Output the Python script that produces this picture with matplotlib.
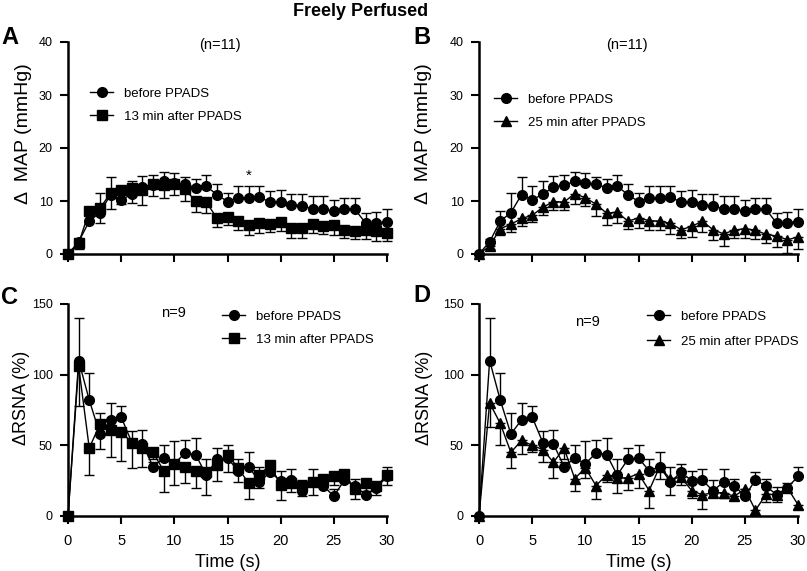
import numpy as np
import matplotlib
matplotlib.use('Agg')
import matplotlib.pyplot as plt

plt.rcParams['font.family'] = ['Liberation Sans', 'DejaVu Sans']

time_s = np.arange(0, 31)
xticks = [0, 5, 10, 15, 20, 25, 30]

# MAP, before PPADS (shared by A and B), upper SEM
map_before = [0, 2.3, 6.2, 7.8, 11.2, 10.2, 11.3, 12.6, 13.0, 13.7, 13.4, 13.2, 12.5, 12.8, 11.2,
              9.9, 10.6, 10.5, 10.7, 9.8, 9.8, 9.3, 9.1, 8.5, 8.4, 8.1, 8.4, 8.4, 5.8, 5.9, 6.1]
map_before_err = [0, 0.5, 1.9, 3.8, 3.3, 2.7, 2.5, 2.2, 1.9, 1.8, 1.8, 1.4, 1.7, 2.2, 2.0,
                  1.6, 2.2, 2.3, 2.1, 2.0, 2.2, 2.1, 2.2, 2.4, 2.5, 2.1, 2.1, 2.1, 2.0, 2.0, 2.3]
# MAP, 13 min after PPADS, lower SEM
map_13 = [0, 2.0, 8.1, 8.6, 11.5, 12.0, 12.5, 12.0, 13.3, 13.0, 13.2, 12.2, 10.0, 9.8, 6.8,
          7.0, 6.3, 5.4, 5.9, 5.7, 6.0, 4.9, 4.9, 5.6, 5.3, 5.4, 4.5, 4.4, 4.5, 4.4, 4.0]
map_13_err = [0, 1.0, 1.0, 2.7, 3.1, 2.5, 2.8, 2.8, 2.3, 2.4, 2.0, 2.2, 2.0, 2.0, 1.7,
              1.5, 1.8, 1.8, 1.9, 1.5, 1.6, 1.8, 1.9, 1.6, 1.5, 1.9, 1.5, 1.6, 1.6, 1.9, 1.5]
# MAP, 25 min after PPADS, lower SEM
map_25 = [0, 1.5, 4.8, 5.6, 6.7, 7.3, 8.8, 9.9, 9.8, 11.4, 10.6, 9.4, 7.7, 7.9, 6.2,
          6.8, 6.3, 6.2, 5.8, 4.6, 5.2, 6.2, 4.6, 3.8, 4.5, 4.8, 4.5, 3.7, 3.4, 2.7, 3.2]
map_25_err = [0, 0.5, 1.3, 1.4, 1.5, 1.3, 1.5, 1.6, 1.5, 1.9, 1.6, 2.2, 2.2, 2.1, 1.4,
              1.9, 1.7, 1.7, 2.0, 1.6, 1.9, 2.0, 2.0, 2.2, 1.5, 1.8, 1.7, 1.7, 2.1, 2.5, 2.2]

# RSNA, before PPADS (shared by C and D), upper SEM
rsna_before = [0, 110, 82, 58, 68, 70, 52, 51, 35, 41, 37, 44.5, 43.5, 29, 40,
               41, 32, 35, 24, 31, 25, 25.5, 17.8, 24, 21.5, 14, 25.5, 21, 15, 20, 28]
rsna_before_err = [0, 30, 19, 15, 12, 8, 8, 10, 3, 9.5, 16, 9.5, 12, 11, 8,
                   9, 8, 10, 11, 5.5, 6.5, 7.5, 7.7, 9.5, 4.5, 5, 5.5, 5, 5.5, 3, 7]
# RSNA, 13 min after PPADS, lower SEM
rsna_13 = [0, 106, 48, 65, 61, 59.5, 52, 48, 45, 32, 36.5, 35, 32, 31, 36,
           43.5, 34, 23, 29, 36, 22, 23, 21, 24, 26, 28, 30, 19, 23, 21, 29]
rsna_13_err = [0, 28, 19, 17.5, 19, 20.5, 18, 13, 5, 15, 14.5, 12, 12, 16, 11,
               12.5, 10, 11, 9, 6, 11, 6, 7, 9, 4, 6, 6, 7, 5, 6, 7]
# RSNA, 25 min after PPADS, lower SEM
rsna_25 = [0, 80, 65.5, 45, 53.5, 50, 47, 38, 48, 26.5, 34, 21.5, 29, 27, 27,
           30, 18, 35, 26, 27.5, 18, 15, 16.5, 16.5, 14, 19, 4, 15.5, 15, 20, 8]
rsna_25_err = [0, 17, 15.5, 11, 9.5, 5, 9, 11, 8, 8.5, 7, 9.5, 5, 11, 8.5,
               10, 12, 9, 11, 5.5, 5, 10, 3, 3.5, 3, 4, 3, 5.5, 5, 3, 3]

fig = plt.figure(figsize=(8.07, 5.71), dpi=100)
W, H = 807.0, 571.0


def make_ax(x0, x1, ytop, ybot):
    return fig.add_axes([x0 / W, 1 - ybot / H, (x1 - x0) / W, (ybot - ytop) / H])


def series(ax, y, err, marker, ms, upper, label):
    e = np.array(err)
    z = np.zeros_like(e)
    yerr = [z, e] if upper else [e, z]
    ax.errorbar(time_s, y, yerr=yerr, fmt='none', ecolor='black', elinewidth=1.0,
                capsize=3.5, capthick=1.0, clip_on=False, zorder=2)
    ax.plot(time_s, y, color='black', lw=1.0, marker=marker, ms=ms,
            clip_on=False, zorder=3, label=label)


def style(ax, ymax, ystep, show_x):
    ax.set_xlim(0, 30)
    ax.set_ylim(0, ymax)
    ax.set_yticks(np.arange(0, ymax + 1, ystep))
    ax.set_xticks(xticks)
    for s in ['top', 'right']:
        ax.spines[s].set_visible(False)
    for s in ['left', 'bottom']:
        ax.spines[s].set_linewidth(1.8)
    ax.tick_params(direction='out', length=6, width=1.5)
    ax.tick_params(axis='y', labelsize=9, pad=5)
    ax.tick_params(axis='x', labelsize=10.5, pad=7)
    if show_x:
        ax.set_xticklabels([str(t) for t in xticks])
        ax.set_xlabel('Time (s)', fontsize=13, labelpad=4)
    else:
        ax.set_xticklabels([])


axA = make_ax(68, 387, 42, 254)
axB = make_ax(479, 798, 42, 254)
axC = make_ax(68, 387, 304, 516)
axD = make_ax(479, 798, 304, 516)

series(axA, map_before, map_before_err, 'o', 7, True, 'before PPADS')
series(axA, map_13, map_13_err, 's', 6.5, False, '13 min after PPADS')
series(axB, map_before, map_before_err, 'o', 7, True, 'before PPADS')
series(axB, map_25, map_25_err, '^', 6.5, False, '25 min after PPADS')
series(axC, rsna_before, rsna_before_err, 'o', 7, True, 'before PPADS')
series(axC, rsna_13, rsna_13_err, 's', 6.5, False, '13 min after PPADS')
series(axD, rsna_before, rsna_before_err, 'o', 7, True, 'before PPADS')
series(axD, rsna_25, rsna_25_err, '^', 6.5, False, '25 min after PPADS')

for ax in (axA, axB):
    style(ax, 40, 10, False)
    ax.set_ylabel('\u0394  MAP (mmHg)', fontsize=14)
for ax in (axC, axD):
    style(ax, 150, 50, True)
    ax.set_ylabel('\u0394RSNA (%)', fontsize=13)
axA.yaxis.set_label_coords(-0.113, 0.57)
axB.yaxis.set_label_coords(-0.147, 0.57)
axC.yaxis.set_label_coords(-0.119, 0.557)
axD.yaxis.set_label_coords(-0.144, 0.557)

axA.text(0.476, 0.986, '(n=11)', transform=axA.transAxes, ha='center', va='center', fontsize=10.5)
axB.text(0.464, 0.986, '(n=11)', transform=axB.transAxes, ha='center', va='center', fontsize=10.5)
axC.text(0.332, 0.958, 'n=9', transform=axC.transAxes, ha='center', va='center', fontsize=10.5)
axD.text(0.339, 0.915, 'n=9', transform=axD.transAxes, ha='center', va='center', fontsize=10.5)
axA.text(17, 14.7, '*', ha='center', va='center', fontsize=11)

leg_kw = dict(frameon=False, fontsize=9.5, handlelength=1.75, handletextpad=0.83,
              labelspacing=0.82, borderpad=0, borderaxespad=0, loc='upper left')
axA.legend(bbox_to_anchor=(0.069, 0.786), **leg_kw)
axB.legend(bbox_to_anchor=(0.047, 0.758), **leg_kw)
axC.legend(bbox_to_anchor=(0.483, 0.970), **leg_kw)
leg_kw['labelspacing'] = 0.97
axD.legend(bbox_to_anchor=(0.527, 0.970), **leg_kw)

fig.text(361 / W, 1 - 11 / H, 'Freely Perfused', ha='center', va='center',
         fontsize=13, fontweight='bold')
for lbl, px, py in [('A', 10, 37), ('B', 422, 37), ('C', 10, 297), ('D', 422, 295)]:
    fig.text(px / W, 1 - py / H, lbl, ha='center', va='center', fontsize=17, fontweight='bold')

fig.savefig('out.png', dpi=100)
